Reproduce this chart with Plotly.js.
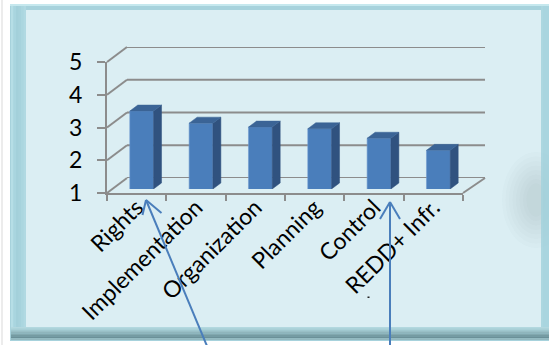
<!DOCTYPE html>
<html><head><meta charset="utf-8">
<script src="https://cdn.plot.ly/plotly-3.0.1.min.js"></script>
<style>html,body{margin:0;padding:0;background:#fff;}#chart{width:549px;height:345px;}</style>
</head><body><div id="chart"></div>
<script>
// ---- data ----
const categories = ['Rights', 'Implementation', 'Organization', 'Planning', 'Control', 'REDD+ Infr.'];
const values = [3.38, 3.01, 2.89, 2.84, 2.55, 2.18];
const yTicks = [1, 2, 3, 4, 5];

// ---- geometry helpers (pixels -> paper) ----
const W = 549, H = 345;
const px = x => x / W;
const py = y => 1 - y / H;
const yMin = 1, yMax = 5;
const nCat = categories.length;

const front = {x0: 107, x1: 463, yb: 193, yt: 62};
const back = {x0: 127, x1: 485, yb: 178, yt: 47};
const barPl = {x0: 112, x1: 468, yb: 189, yt: 58};

const gridCol = '#8C8C8C';
const font = 'Lato, "Open Sans", sans-serif';

// bar depth faces
const barW = 0.4;
const pxPerCat = (front.x1 - front.x0) / nCat;
const pxPerVal = (front.yb - front.yt) / (yMax - yMin);
const ddx = 8 / pxPerCat, ddy = 6 / pxPerVal;
const sideX = [], sideY = [], topX = [], topY = [];
values.forEach((v, i) => {
  const l = i - barW / 2, r = i + barW / 2;
  sideX.push(r, r + ddx, r + ddx, r, r, null);
  sideY.push(yMin, yMin + ddy, v + ddy, v, yMin, null);
  topX.push(l, r, r + ddx, l + ddx, l, null);
  topY.push(v, v, v + ddy, v + ddy, v, null);
});

const traces = [
  {x: [0], y: [-10], xaxis: 'x', yaxis: 'y', type: 'scatter', mode: 'markers', marker: {opacity: 0}, hoverinfo: 'skip', showlegend: false},
  {x: [0], y: [-10], xaxis: 'x2', yaxis: 'y2', type: 'scatter', mode: 'markers', marker: {opacity: 0}, hoverinfo: 'skip', showlegend: false},
  {x: categories.map((c, i) => i), y: values, xaxis: 'x3', yaxis: 'y3', type: 'bar', width: barW,
   marker: {color: '#4A7EBB', line: {color: '#6F9AD0', width: 0.6}}, showlegend: false, hoverinfo: 'skip'},
  {x: sideX, y: sideY, xaxis: 'x3', yaxis: 'y3', type: 'scatter', mode: 'lines', fill: 'toself',
   fillcolor: '#30527F', line: {width: 0.5, color: '#30527F'}, showlegend: false, hoverinfo: 'skip'},
  {x: topX, y: topY, xaxis: 'x3', yaxis: 'y3', type: 'scatter', mode: 'lines', fill: 'toself',
   fillcolor: '#3B6496', line: {width: 0.5, color: '#3B6496'}, showlegend: false, hoverinfo: 'skip'}
];

// ---- decorative shapes ----
const shapes = [];
function rect(x0, y0, x1, y1, color, layer) {
  shapes.push({type: 'rect', xref: 'paper', yref: 'paper', x0: px(x0), x1: px(x1), y0: py(y1), y1: py(y0),
    fillcolor: color, line: {width: 0}, layer: layer || 'below'});
}
function line(x0, y0, x1, y1, color, width, layer) {
  shapes.push({type: 'line', xref: 'paper', yref: 'paper', x0: px(x0), y0: py(y0), x1: px(x1), y1: py(y1),
    line: {color: color, width: width}, layer: layer || 'below'});
}
// frame
line(2, 0, 2, 345, '#E6E6E6', 1.5);
rect(10, 4, 549, 341, '#A7D2DC');
rect(10, 4, 549, 6, '#C6E8EE');
const leftCols = ['#B6DEE6', '#A9D5DF', '#A3D0DA', '#A6D2DC', '#ABD6DF', '#B1D9E2'];
leftCols.forEach((c, k) => rect(11 + k * 2.5, 6, 13.5 + k * 2.5, 330, c));
const botCols = ['#B3D8DF', '#A8CFD6', '#9CC3CA', '#8FB5BC', '#82A8AF', '#759BA2', '#6B9098', '#93B8BF'];
botCols.forEach((c, k) => rect(11, 327 + k * 1.6, 549, 328.7 + k * 1.6, c));
rect(541, 6, 549, 327, '#A9D4DE');
rect(541, 6, 543, 327, '#B9DFE7');
rect(26, 10, 541, 327, '#DBEEF3');
// soft shadow on the right
for (let k = 0; k < 8; k++) {
  const rx = 34 - k * 3.5, ry = 48 - k * 4.5;
  shapes.push({type: 'circle', xref: 'paper', yref: 'paper', x0: px(536 - rx), x1: px(536 + rx),
    y0: py(200 + ry), y1: py(200 - ry), fillcolor: 'rgba(120,130,135,0.028)', line: {width: 0}, layer: 'below'});
}
rect(541, 6, 549, 327, 'rgba(169,212,222,0.8)');

// back-wall gridlines (on back-wall axes)
yTicks.forEach(v => shapes.push({type: 'line', xref: 'x', yref: 'y', x0: -0.5, x1: nCat - 0.5, y0: v, y1: v,
  line: {color: gridCol, width: 2}, layer: 'below'}));
// 3D connectors from front axis to back wall
const fy = v => front.yb - (v - yMin) * (front.yb - front.yt) / (yMax - yMin);
const by = v => back.yb - (v - yMin) * (back.yb - back.yt) / (yMax - yMin);
yTicks.forEach(v => line(front.x0, fy(v), back.x0, by(v), gridCol, 2));
line(front.x1, front.yb, back.x1, back.yb, gridCol, 2);

// arrows
const arrowCol = '#4A7EBB';
line(207, 346, 146, 200, arrowCol, 2, 'above');
line(146, 200, 142.5, 215, arrowCol, 2, 'above');
line(146, 200, 161.5, 213, arrowCol, 2, 'above');
line(390, 346, 390, 202, arrowCol, 2, 'above');
line(390, 202, 380, 219, arrowCol, 2, 'above');
line(390, 202, 400, 219, arrowCol, 2, 'above');
rect(367.5, 296.5, 369.5, 298, '#222222', 'above');

const hidden = {showgrid: false, zeroline: false, showticklabels: false, showline: false, ticks: ''};

const layout = {
  width: W, height: H,
  margin: {l: 0, r: 0, t: 0, b: 0, pad: 0},
  paper_bgcolor: '#FFFFFF',
  plot_bgcolor: 'rgba(0,0,0,0)',
  showlegend: false,
  font: {family: font, color: '#000'},
  xaxis: Object.assign({}, hidden, {domain: [px(back.x0), px(back.x1)], range: [-0.5, nCat - 0.5], anchor: 'y'}),
  yaxis: Object.assign({}, hidden, {domain: [py(back.yb), py(back.yt)], range: [yMin, yMax], anchor: 'x'}),
  xaxis2: {domain: [px(front.x0), px(front.x1)], range: [-0.5, nCat - 0.5], anchor: 'y2',
    tickmode: 'array', tickvals: categories.map((c, i) => i), ticktext: categories,
    tickangle: -45, ticks: '', showgrid: false, zeroline: false,
    showline: true, linecolor: gridCol, linewidth: 2, ticklabelstandoff: -10,
    tickfont: {family: font, size: 23, color: '#000'},
    minor: {tickmode: 'array', tickvals: categories.map((c, i) => i - 0.5).concat([nCat - 0.5]),
      ticks: 'outside', ticklen: 6, tickwidth: 2, tickcolor: gridCol, showgrid: false}},
  yaxis2: {domain: [py(front.yb), py(front.yt)], range: [yMin, yMax], anchor: 'x2',
    tickmode: 'array', tickvals: yTicks, ticks: 'outside', ticklen: 8, tickwidth: 2, tickcolor: gridCol,
    showline: true, linecolor: gridCol, linewidth: 2, showgrid: false, zeroline: false,
    ticklabelstandoff: 10,
    tickfont: {family: font, size: 23, color: '#000'}},
  xaxis3: Object.assign({}, hidden, {domain: [px(barPl.x0), px(barPl.x1)], range: [-0.5, nCat - 0.5], anchor: 'y3'}),
  yaxis3: Object.assign({}, hidden, {domain: [py(barPl.yb), py(barPl.yt)], range: [yMin, yMax], anchor: 'x3'}),
  shapes: shapes
};

Plotly.newPlot('chart', traces, layout, {staticPlot: true, displayModeBar: false});
</script>
</body></html>
